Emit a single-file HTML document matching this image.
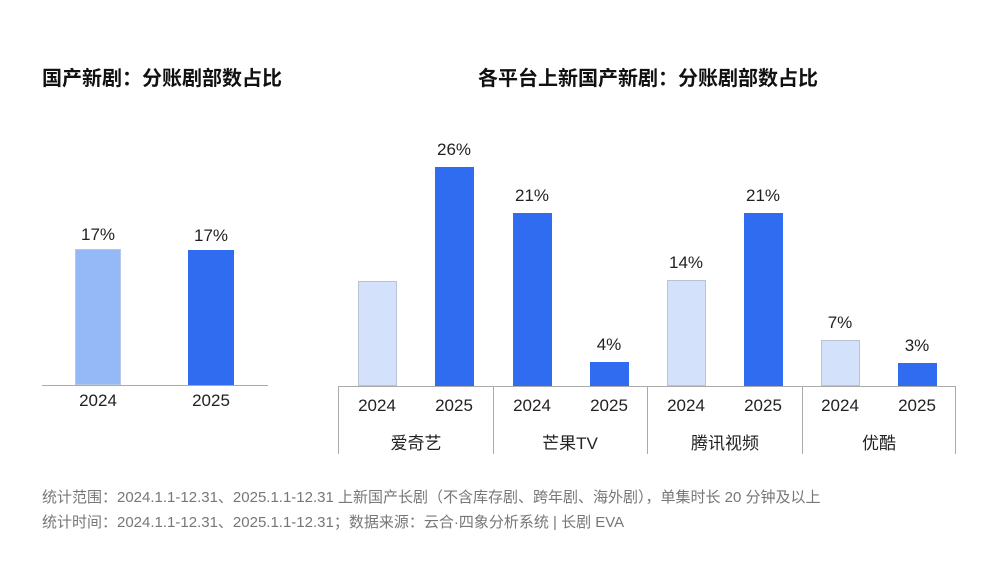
<!DOCTYPE html>
<html><head><meta charset="utf-8"><style>
body{margin:0;width:1000px;height:562px;background:#fff;position:relative;overflow:hidden;font-family:"Liberation Sans","Noto Sans CJK SC",sans-serif;color:#222}
div{position:absolute;white-space:nowrap}
.t{font-size:20px;font-weight:bold;color:#111;top:62px}
.b{box-sizing:border-box}
.d{background:#2f6cf0}
.l{background:#d3e2fa;border:1px solid #b8c4d4}
.v{font-size:17px;width:80px;text-align:center;color:#222}
.y{font-size:17px;width:80px;text-align:center;top:396px}
.g{font-size:17px;width:154px;text-align:center;top:429px}
.vl{width:1px;background:#aaa;top:386px;height:68px}
.f{font-size:15px;color:#777;left:42px}
</style></head><body>
<div class="t" style="left:42px">国产新剧：分账剧部数占比</div>
<div class="t" style="left:478px">各平台上新国产新剧：分账剧部数占比</div>

<div style="left:42px;top:385px;width:226px;height:1px;background:#aaa"></div>
<div class="b" style="left:75px;top:249px;width:46px;height:136px;background:#95b8f6;border:1px solid #b5c8e6"></div>
<div class="b d" style="left:188px;top:250px;width:46px;height:135px"></div>
<div class="v" style="left:58px;top:225px">17%</div>
<div class="v" style="left:171px;top:226px">17%</div>
<div class="y" style="left:58px;top:391px">2024</div>
<div class="y" style="left:171px;top:391px">2025</div>

<div style="left:338px;top:386px;width:617px;height:1px;background:#aaa"></div>
<div class="vl" style="left:338px"></div><div class="vl" style="left:493px"></div><div class="vl" style="left:647px"></div><div class="vl" style="left:802px"></div><div class="vl" style="left:955px"></div>

<div class="b l" style="left:358px;top:281px;width:39px;height:105px"></div>
<div class="b d" style="left:435px;top:167px;width:39px;height:219px"></div>
<div class="b d" style="left:513px;top:213px;width:39px;height:173px"></div>
<div class="b d" style="left:590px;top:362px;width:39px;height:24px"></div>
<div class="b l" style="left:667px;top:280px;width:39px;height:106px"></div>
<div class="b d" style="left:744px;top:213px;width:39px;height:173px"></div>
<div class="b l" style="left:821px;top:340px;width:39px;height:46px"></div>
<div class="b d" style="left:898px;top:363px;width:39px;height:23px"></div>

<div class="v" style="left:414px;top:140px">26%</div>
<div class="v" style="left:492px;top:186px">21%</div>
<div class="v" style="left:569px;top:335px">4%</div>
<div class="v" style="left:646px;top:253px">14%</div>
<div class="v" style="left:723px;top:186px">21%</div>
<div class="v" style="left:800px;top:313px">7%</div>
<div class="v" style="left:877px;top:336px">3%</div>

<div class="y" style="left:337px">2024</div><div class="y" style="left:414px">2025</div>
<div class="y" style="left:492px">2024</div><div class="y" style="left:569px">2025</div>
<div class="y" style="left:646px">2024</div><div class="y" style="left:723px">2025</div>
<div class="y" style="left:800px">2024</div><div class="y" style="left:877px">2025</div>
<div class="g" style="left:339px">爱奇艺</div>
<div class="g" style="left:493px">芒果TV</div>
<div class="g" style="left:648px">腾讯视频</div>
<div class="g" style="left:802px">优酷</div>

<div class="f" style="top:486px">统计范围：2024.1.1-12.31、2025.1.1-12.31 上新国产长剧（不含库存剧、跨年剧、海外剧），单集时长 20 分钟及以上</div>
<div class="f" style="top:511px">统计时间：2024.1.1-12.31、2025.1.1-12.31；数据来源：云合·四象分析系统 | 长剧 EVA</div>
</body></html>
